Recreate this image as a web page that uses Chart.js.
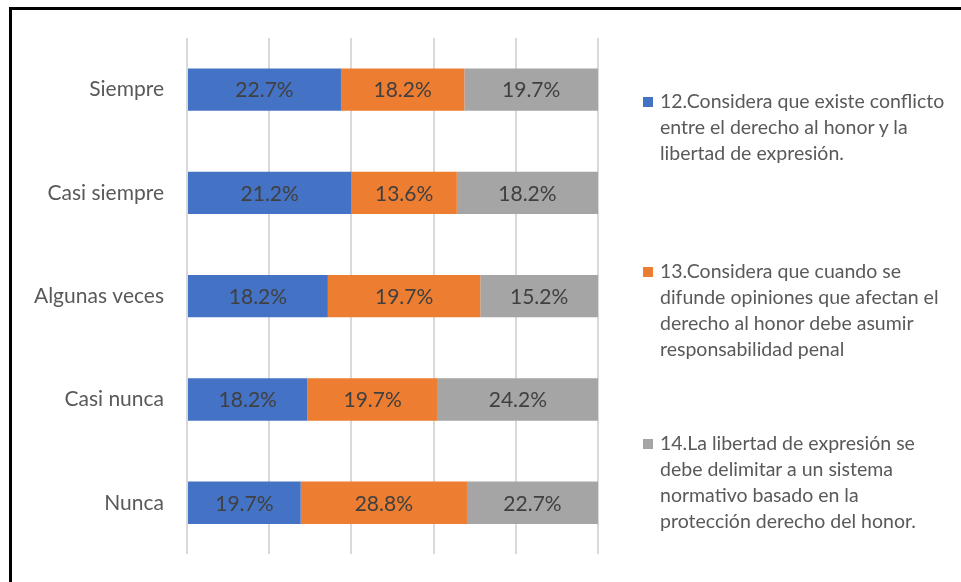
<!DOCTYPE html>
<html>
<head>
<meta charset="utf-8">
<script src="https://cdn.jsdelivr.net/npm/chart.js@4/dist/chart.umd.min.js"></script>
<style>
  html, body { margin: 0; padding: 0; background: #fff; }
  #wrap { position: relative; width: 961px; height: 582px; overflow: hidden; }
  #frame { position: absolute; left: 9px; top: 7px; width: 1000px; height: 700px;
    border-top: 3px solid #000; border-left: 3px solid #000; box-sizing: border-box; }
  #legend { position: absolute; left: 642px; top: 0; width: 318px;
    font-family: Lato, "Open Sans", sans-serif; font-size: 19.5px; color: #595959; line-height: 26px; }
  .item { position: absolute; left: 0; width: 318px; padding-left: 18px; box-sizing: border-box; white-space: pre; }
  .item i { position: absolute; left: 1px; top: 9px; width: 10px; height: 10px; }
</style>
</head>
<body>
<div id="wrap">
  <canvas id="c" width="961" height="582"></canvas>
  <div id="frame"></div>
  <div id="legend"></div>
</div>
<script>
// raw values (percent of respondents)
const categories = ['Siempre', 'Casi siempre', 'Algunas veces', 'Casi nunca', 'Nunca'];
const q12 = [22.7, 21.2, 18.2, 18.2, 19.7];
const q13 = [18.2, 13.6, 19.7, 19.7, 28.8];
const q14 = [19.7, 18.2, 15.2, 24.2, 22.7];
// legend texts, broken the way the picture wraps them
const seriesNames = [
  ['12.Considera que existe conflicto', 'entre el derecho al honor y la', 'libertad de expresión.'],
  ['13.Considera que cuando se', 'difunde opiniones que afectan el', 'derecho al honor debe asumir', 'responsabilidad penal'],
  ['14.La libertad de expresión se', 'debe delimitar a un sistema', 'normativo basado en la', 'protección derecho del honor.']
];
const colors = ['#4472c4', '#ed7d31', '#a5a5a5'];
const xTicks = [0, 20, 40, 60, 80, 100];

// 100% stacked: each bar is share of the row total
const raw = [q12, q13, q14];
const totals = categories.map((_, i) => raw.reduce((s, r) => s + r[i], 0));
const FONT = 'Lato, "Open Sans", sans-serif';

const labelPlugin = {
  id: 'barLabels',
  afterDatasetsDraw(chart) {
    const ctx = chart.ctx;
    ctx.save();
    ctx.font = '21px ' + FONT;
    ctx.fillStyle = '#404040';
    ctx.textAlign = 'center';
    ctx.textBaseline = 'middle';
    chart.data.datasets.forEach((ds, di) => {
      chart.getDatasetMeta(di).data.forEach((bar, i) => {
        const cx = (bar.x + bar.base) / 2;
        ctx.fillText(raw[di][i].toFixed(1) + '%', cx, bar.y + 1);
      });
    });
    ctx.restore();
  }
};

const chart = new Chart(document.getElementById('c'), {
  type: 'bar',
  data: {
    labels: categories,
    datasets: raw.map((vals, di) => ({
      label: seriesNames[di].join(' '),
      data: vals.map((v, i) => v / totals[i] * 100),
      backgroundColor: colors[di],
      borderWidth: 0,
      barPercentage: 0.41,
      categoryPercentage: 1
    }))
  },
  options: {
    indexAxis: 'y',
    responsive: false,
    animation: false,
    layout: { padding: { left: 0, right: 363, top: 38, bottom: 14 } },
    plugins: { legend: { display: false }, tooltip: { enabled: false } },
    scales: {
      x: {
        stacked: true, min: 0, max: 100,
        afterBuildTicks(scale) { scale.ticks = xTicks.map(v => ({ value: v })); },
        afterFit(scale) { scale.height = 0; },
        ticks: { display: false },
        grid: { color: '#d9d9d9', lineWidth: 2, drawTicks: false },
        border: { display: false }
      },
      y: {
        stacked: true,
        afterFit(scale) { scale.width = 187; },
        ticks: { color: '#595959', font: { family: FONT, size: 21 }, padding: 15 },
        grid: { display: false },
        border: { display: false }
      }
    }
  },
  plugins: [labelPlugin]
});

// legend beside the plot
const legendTops = [88, 258, 430];
const legend = document.getElementById('legend');
seriesNames.forEach((lines, i) => {
  const d = document.createElement('div');
  d.className = 'item';
  d.style.top = legendTops[i] + 'px';
  d.innerHTML = '<i style="background:' + colors[i] + '"></i>';
  d.appendChild(document.createTextNode(lines.join('\n')));
  legend.appendChild(d);
});
</script>
</body>
</html>
